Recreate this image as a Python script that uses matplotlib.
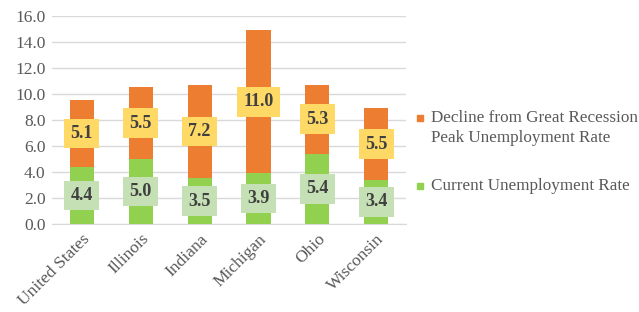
import numpy as np
import matplotlib.pyplot as plt
from matplotlib.patches import Rectangle

plt.rcParams['font.family'] = ['Liberation Serif', 'DejaVu Serif']

regions = ["United States", "Illinois", "Indiana", "Michigan", "Ohio", "Wisconsin"]
current = [4.4, 5.0, 3.5, 3.9, 5.4, 3.4]
decline = [5.1, 5.5, 7.2, 11.0, 5.3, 5.5]

grey = "#595959"
orange = "#ED7D31"
green = "#92D050"

fig = plt.figure(figsize=(6.39, 3.12), dpi=100)
ax = fig.add_axes([0.082, 0.282, 0.553, 0.667])

x = np.arange(len(regions))
w = 0.41
ax.bar(x, decline, w, bottom=current, color=orange, zorder=3)
ax.bar(x, current, w, color=green, zorder=3)

for xi, c, d in zip(x, current, decline):
    ax.text(xi, c / 2, f"{c:.1f}", ha="center", va="center", fontsize=13,
            fontweight="bold", color="#404040", zorder=4,
            bbox=dict(boxstyle="square,pad=0.35", fc="#C5E0B4", ec="none"))
    ax.text(xi, c + d / 2, f"{d:.1f}", ha="center", va="center", fontsize=13,
            fontweight="bold", color="#404040", zorder=4,
            bbox=dict(boxstyle="square,pad=0.35", fc="#FFD966", ec="none"))

ax.set_ylim(0, 16)
ax.set_xlim(-0.5, len(regions) - 0.5)
ax.set_yticks(np.arange(0, 17, 2))
ax.set_yticklabels([f"{v:.1f}" for v in np.arange(0, 17, 2)])
ax.set_xticks(x)
ax.set_xticklabels(regions, rotation=45, ha="right", rotation_mode="anchor")
ax.grid(axis="y", color="#d9d9d9", linewidth=1, zorder=0)
for s in ["top", "right", "left"]:
    ax.spines[s].set_visible(False)
ax.spines["bottom"].set_color("#d9d9d9")
ax.tick_params(length=0, colors=grey, labelsize=12.5)
ax.tick_params(axis="y", pad=5)
ax.tick_params(axis="x", pad=5)

# legend drawn by hand so the orange swatch sits on the first line
W, H = 639, 312
def fx(px):
    return px / W
def fy(py):
    return 1 - py / H

sq = 6
for col, yc in [(orange, 118), (green, 186)]:
    fig.patches.append(Rectangle((fx(417), fy(yc + sq / 2)), sq / W, sq / H,
                                 transform=fig.transFigure, color=col))
fig.text(fx(431), fy(118), "Decline from Great Recession", fontsize=12.3,
         color=grey, va="center")
fig.text(fx(431), fy(138), "Peak Unemployment Rate", fontsize=12.3,
         color=grey, va="center")
fig.text(fx(431), fy(186), "Current Unemployment Rate", fontsize=12.3,
         color=grey, va="center")

fig.savefig("out.png", dpi=100)
